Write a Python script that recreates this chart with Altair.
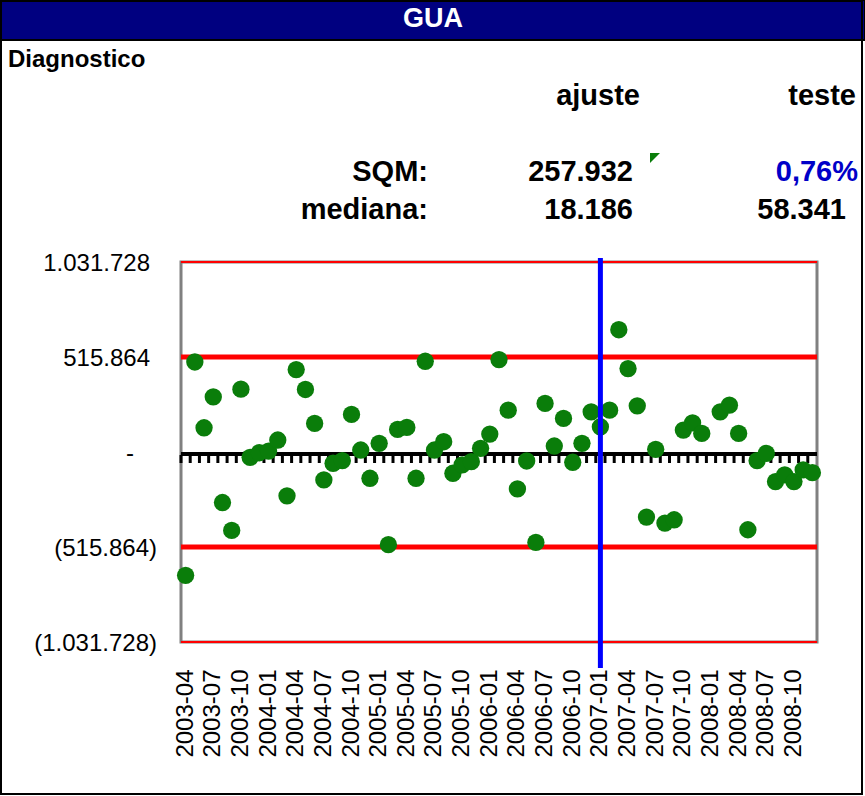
import altair as alt
import pandas as pd

FONT = "Liberation Sans"

# ---------------- data ----------------
months = [str(p) for p in pd.period_range("2003-04", "2008-12", freq="M")]
residuals = [
    -669600, 488800, 131500, 299300, -274400, -426000, 341000, -28700, -4000,
    5000, 65000, -238000, 447600, 339400, 155300, -151600, -61200, -47100,
    204000, 10800, -142600, 47000, -503400, 122800, 133600, -142600, 492600,
    10800, 55800, -115500, -70400, -52300, 20000, 97400, 501700, 227300,
    -200300, -48700, -490900, 263600, 32500, 182400, -55800, 47000, 218100,
    137000, 227300, 664000, 453000, 250600, -353500, 14600, -386000, -368000,
    119000, 158600, 101000, None, 218100, 254400, 101000, -422200, -47100,
    -7000, -160700, -124500, -160700, -97400, -112000,
]
inner_limits = [515864, -515864]
outer_limits = [1031728, -1031728]
y_tick_values = [-1031728, -515864, 0, 515864, 1031728]
y_tick_labels = ["(1.031.728)", "(515.864)", "-", "515.864", "1.031.728"]
split_month = "2007-01"

chart_title = "GUA"
section_label = "Diagnostico"
column_labels = ["ajuste", "teste"]
row_labels = ["SQM:", "mediana:"]
sqm_values = ["257.932", "0,76%"]
median_values = ["18.186", "58.341"]

df = pd.DataFrame({"month": months, "resid": residuals})
ticks_df = pd.DataFrame({"v": y_tick_values, "label": y_tick_labels})

# ---------------- scales / axes ----------------
x_scale = alt.Scale(type="band", domain=months, paddingInner=0, paddingOuter=0)
y_scale = alt.Scale(domain=[outer_limits[1], outer_limits[0]], nice=False, zero=False)

x_axis = alt.Axis(
    values=months[::3], labelAngle=-90, ticks=False, domain=False, labelPadding=27,
    labelFont=FONT, labelFontSize=24, labelColor="black", title="", grid=False,
    labelOverlap=False,
)
y_axis = alt.Axis(
    values=y_tick_values, labels=False, ticks=False, domain=False,
    title="", grid=False,
)

# ---------------- plot layers ----------------
outer_rules = alt.Chart(pd.DataFrame({"v": outer_limits})).mark_rule(
    color="#FF0000", strokeWidth=2
).encode(y=alt.Y("v:Q", scale=y_scale, axis=y_axis))

inner_rules = alt.Chart(pd.DataFrame({"v": inner_limits})).mark_rule(
    color="#FF0000", strokeWidth=5
).encode(y=alt.Y("v:Q", scale=y_scale, axis=y_axis))

zero_line = alt.Chart(pd.DataFrame({"v": [0]})).mark_rule(
    color="black", strokeWidth=4, yOffset=2
).encode(y=alt.Y("v:Q", scale=y_scale, axis=y_axis))

zero_ticks = alt.Chart(df).mark_tick(
    orient="vertical", color="black", thickness=3, size=8, yOffset=7, opacity=1
).encode(
    x=alt.X("month:O", scale=x_scale, bandPosition=0, axis=x_axis),
    y=alt.datum(0, scale=y_scale, axis=y_axis),
)

points = alt.Chart(df).mark_circle(size=300, color="#0A7D0A", opacity=1).encode(
    x=alt.X("month:O", scale=x_scale, axis=x_axis),
    y=alt.Y("resid:Q", scale=y_scale, axis=y_axis),
)

split_line = alt.Chart(pd.DataFrame({"month": [split_month]})).mark_rule(
    color="#0000FF", strokeWidth=5
).encode(
    x=alt.X("month:O", scale=x_scale, axis=x_axis),
    y=alt.value(-4),
    y2=alt.value(406),
)


# y tick labels, accounting-style alignment (positives leave room for ")")
def ylabels(cond, dx):
    return alt.Chart(ticks_df).transform_filter(cond).mark_text(
        align="right", baseline="middle", font=FONT, fontSize=24, color="black",
        dx=dx, dy=2,
    ).encode(
        y=alt.Y("v:Q", scale=y_scale, axis=y_axis),
        x=alt.value(-24),
        text="label:N",
    )


ylab_neg = ylabels("datum.v < 0", 0)
ylab_pos = ylabels("datum.v > 0", -7)
ylab_zero = ylabels("datum.v == 0", -23)


# ---------------- header decoration ----------------
def one(text):
    return alt.Chart(pd.DataFrame({"t": [text]}))

title_bar = one("").mark_rect(color="#000080", stroke="black", strokeWidth=2).encode(
    x=alt.value(-181), x2=alt.value(684), y=alt.value(-262), y2=alt.value(-222)
)
border = one("").mark_rect(fillOpacity=0, stroke="black", strokeWidth=2).encode(
    x=alt.value(-180), x2=alt.value(681), y=alt.value(-261), y2=alt.value(532)
)


def txt(text, x, y, align="right", size=29, color="black", bold=True):
    return one(text).mark_text(
        align=align, baseline="middle", font=FONT, fontSize=size,
        fontWeight="bold" if bold else "normal", color=color,
    ).encode(x=alt.value(x), y=alt.value(y), text="t:N")


texts = [
    txt(chart_title, 252, -243, align="center", size=27, color="white"),
    txt(section_label, -173, -202, align="left", size=24),
    txt(column_labels[0], 459, -166),
    txt(column_labels[1], 675, -166),
    txt(row_labels[0], 247, -90),
    txt(sqm_values[0], 452, -90),
    txt(sqm_values[1], 677, -90, color="#0000C8"),
    txt(row_labels[1], 247, -52),
    txt(median_values[0], 452, -52),
    txt(median_values[1], 665, -52),
]

marker = one("").mark_point(
    shape="M -1 -1 L 1 -1 L -1 1 Z", filled=True, color="#0A7D0A", size=100, opacity=1
).encode(x=alt.value(474), y=alt.value(-104))

chart = alt.layer(
    outer_rules, inner_rules, zero_line, zero_ticks, points, split_line,
    ylab_neg, ylab_pos, ylab_zero,
    title_bar, border, marker, *texts,
).properties(
    width=636, height=380,
    padding={"left": 181, "top": 262, "right": 48, "bottom": 154},
    autosize=alt.AutoSizeParams(type="none"),
    background="white",
).configure_view(stroke="#808080", strokeWidth=3)

chart.save("out.html", embed_options={"renderer": "svg", "actions": False})
